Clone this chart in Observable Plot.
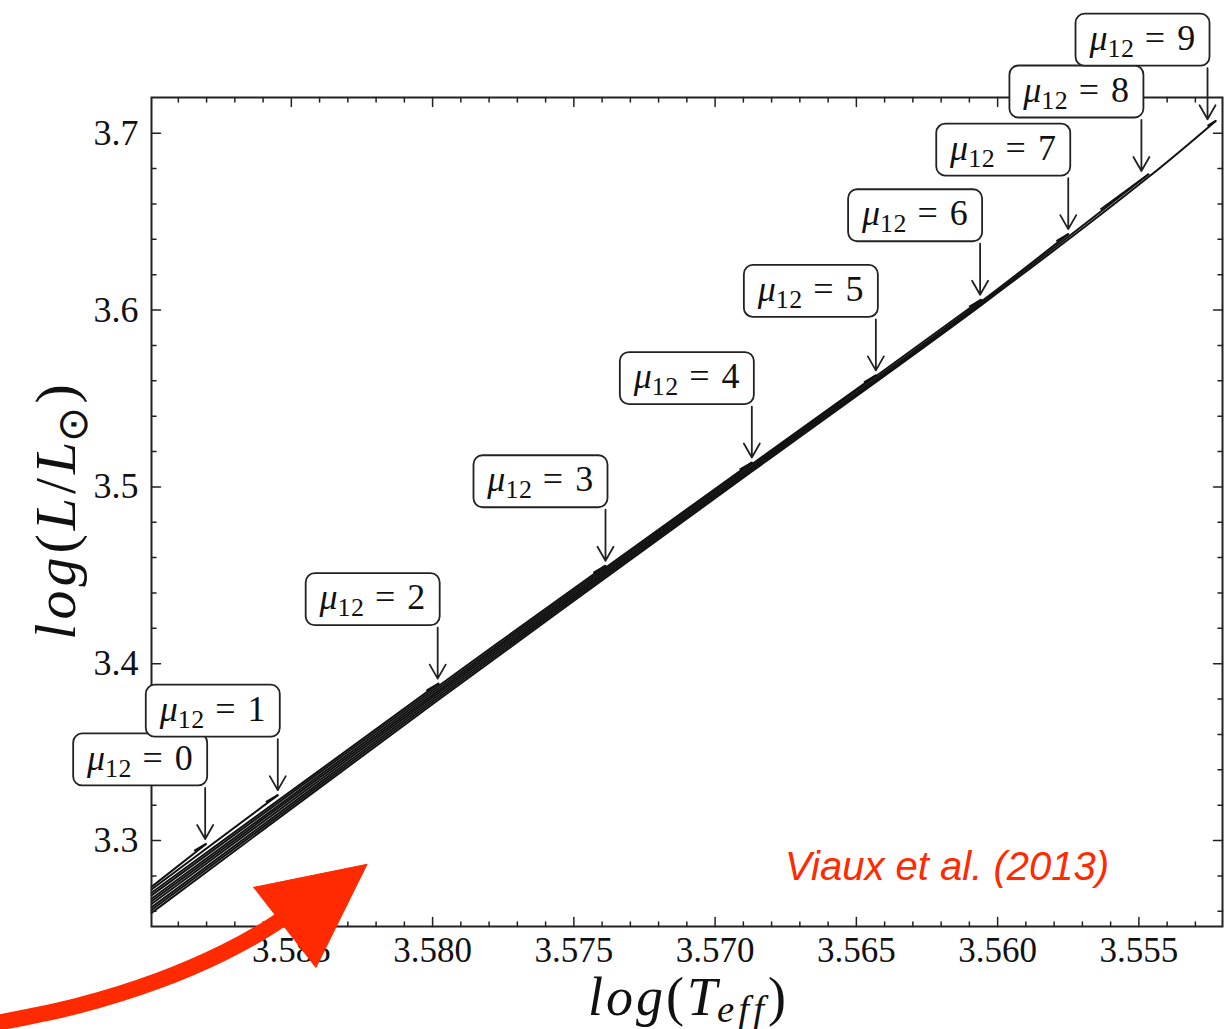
<!DOCTYPE html>
<html><head><meta charset="utf-8">
<script src="https://cdn.jsdelivr.net/npm/d3@7"></script>
<script src="https://cdn.jsdelivr.net/npm/@observablehq/plot@0.6"></script>
<style>html,body{margin:0;padding:0;background:#fff;}</style>
</head><body><div id="chart"></div>
<script>
// ---------- data ----------
const mu = [0, 1, 2, 3, 4, 5, 6, 7, 8, 9];
const xDomain = [3.58995, 3.55204];
const yDomain = [3.2514, 3.7202];
// track start (left edge of frame)
const startX = 3.58995;
const startY = [3.2738, 3.2723, 3.2705, 3.2690, 3.2671, 3.2657, 3.2641, 3.2622, 3.2607, 3.2591];
// intermediate nodes (x of the mu=2,4,6,8 tips)
const nodeX = [3.57979, 3.56870, 3.56058, 3.55466];
const nodeY2 = [null, null, null, 3.3874, 3.3861, 3.3848, 3.3835, 3.3822, 3.3809, 3.3796];
const nodeY4 = [null, null, null, null, null, 3.5128, 3.5117, 3.5107, 3.5097, 3.5087];
const nodeY6 = [null, null, null, null, null, null, null, 3.6048, 3.6038, 3.6028];
const nodeY8 = [null, null, null, null, null, null, null, null, null, 3.6752];
// track tips
const tipX = [3.58802, 3.58548, 3.57979, 3.57388, 3.56870, 3.56431, 3.56058, 3.55750, 3.55466, 3.55228];
const tipY = [3.29807, 3.32567, 3.38873, 3.45541, 3.51377, 3.56306, 3.60584, 3.64295, 3.67677, 3.70697];
// short return hook after each tip
const hookX = [3.58844, 3.58590, 3.58022, 3.57431, 3.56913, 3.56473, 3.56101, 3.55792, 3.55636, 3.55257];
const hookY = [3.29411, 3.32170, 3.38476, 3.45144, 3.50980, 3.55910, 3.60187, 3.63898, 3.65683, 3.70414];
// annotated points
const labelX = [3.58805, 3.58548, 3.57982, 3.57388, 3.56870, 3.56431, 3.56062, 3.55750, 3.55491, 3.55257];
const labelY = [3.29807, 3.32567, 3.38873, 3.45541, 3.51377, 3.56306, 3.60584, 3.64295, 3.67581, 3.70510];
// axes
const xMajor = [3.585, 3.580, 3.575, 3.570, 3.565, 3.560, 3.555];
const xMajorLabels = ["3.585", "3.580", "3.575", "3.570", "3.565", "3.560", "3.555"];
const yMajor = [3.3, 3.4, 3.5, 3.6, 3.7];
const yMajorLabels = ["3.3", "3.4", "3.5", "3.6", "3.7"];
const xMinor = d3.range(3553, 3590).map(v => v / 1000).filter(v => !xMajor.some(m => Math.abs(m - v) < 1e-9));
const yMinor = d3.range(163, 186).map(v => v / 50).filter(v => !yMajor.some(m => Math.abs(m - v) < 1e-9));
// credit
const creditX = [3.56179];
const creditY = [3.28487];
const creditText = ["Viaux et al. (2013)"];
// red highlight arrow
const redShaftX = [3.59537, 3.59253, 3.58970, 3.58739, 3.58562, 3.58491];
const redShaftY = [3.19705, 3.20669, 3.22085, 3.23671, 3.25258, 3.26108];
const redHeadX = [3.58633, 3.58232, 3.58413, 3.58633];
const redHeadY = [3.27354, 3.28657, 3.22822, 3.27354];

// ---------- tables ----------
const trackRows = [];
for (const j of mu) {
  trackRows.push({mu: j, x: startX, y: startY[j]});
  [nodeY2, nodeY4, nodeY6, nodeY8].forEach((arr, k) => {
    if (arr[j] != null) trackRows.push({mu: j, x: nodeX[k], y: arr[j]});
  });
  trackRows.push({mu: j, x: tipX[j], y: tipY[j]});
}
const shaftRows = redShaftX.map((x, i) => ({x, y: redShaftY[i]}));
const headRows = redHeadX.map((x, i) => ({x, y: redHeadY[i]}));

const ink = "#222";
const tickShape = {draw(ctx, l) { ctx.moveTo(0, 0); ctx.lineTo(0, -l); }};
const arrowShape = {draw(ctx, l) {
  ctx.moveTo(0, 0); ctx.lineTo(0, -l);
  ctx.moveTo(-8, -l + 14); ctx.lineTo(0, -l); ctx.lineTo(8, -l + 14);
}};
const serif = "'Liberation Serif', 'Times New Roman', serif";

const tickMarks = (vals, len) => [
  Plot.vector(vals, {x: d => d, frameAnchor: "bottom", length: len, rotate: 0, anchor: "start", shape: tickShape, stroke: ink, strokeWidth: 1.5}),
  Plot.vector(vals, {x: d => d, frameAnchor: "top", length: len, rotate: 180, anchor: "start", shape: tickShape, stroke: ink, strokeWidth: 1.5})
];
const yTickMarks = (vals, len) => [
  Plot.vector(vals, {y: d => d, frameAnchor: "left", length: len, rotate: 90, anchor: "start", shape: tickShape, stroke: ink, strokeWidth: 1.5}),
  Plot.vector(vals, {y: d => d, frameAnchor: "right", length: len, rotate: -90, anchor: "start", shape: tickShape, stroke: ink, strokeWidth: 1.5})
];

const chart = Plot.plot({
  width: 1227,
  height: 1029,
  marginLeft: 151,
  marginRight: 5,
  marginTop: 97,
  marginBottom: 103,
  x: {domain: xDomain, axis: null},
  y: {domain: yDomain, axis: null},
  style: {background: "white"},
  marks: [
    // tracks
    Plot.line(trackRows, {x: "x", y: "y", z: "mu", curve: "catmull-rom", stroke: "#111", strokeWidth: 2}),
    Plot.link(mu, {x1: i => tipX[i], y1: i => tipY[i], x2: i => hookX[i], y2: i => hookY[i], stroke: "#111", strokeWidth: 2}),
    // frame and ticks
    Plot.frame({stroke: ink, strokeWidth: 2}),
    ...tickMarks(xMajor, 9), ...tickMarks(xMinor, 4.5),
    ...yTickMarks(yMajor, 9), ...yTickMarks(yMinor, 4.5),
    // tick labels
    Plot.text(xMajor, {x: d => d, frameAnchor: "bottom", dy: 11, lineAnchor: "top", text: (d, i) => xMajorLabels[i], fontSize: 35, fontFamily: serif, fill: "#111"}),
    Plot.text(yMajor, {y: d => d, frameAnchor: "left", dx: -13, textAnchor: "end", lineAnchor: "middle", text: (d, i) => yMajorLabels[i], fontSize: 36, fontFamily: serif, fill: "#111"}),
    // axis titles
    Plot.text(["x"], {frameAnchor: "bottom", dy: 71, textAnchor: "middle", lineAnchor: "middle", text: () => "log(Teff)", fontSize: 54, fontFamily: serif, fill: "#111"}),
    Plot.text(["y"], {frameAnchor: "left", dx: -95, textAnchor: "middle", lineAnchor: "middle", rotate: -90, text: () => "log(L/L⊙)", fontSize: 58, fontFamily: serif, fill: "#111"}),
    // annotations
    Plot.rect(mu, {x1: i => labelX[i], x2: i => labelX[i], y1: i => labelY[i], y2: i => labelY[i],
      insetLeft: -131.5, insetRight: -2.5, insetTop: -110, insetBottom: 58, rx: 9,
      fill: "white", stroke: ink, strokeWidth: 1.8}),
    Plot.text(mu, {x: i => labelX[i], y: i => labelY[i], dx: -64.5, dy: -86, textAnchor: "middle", lineAnchor: "middle",
      text: i => "μ12 = " + i, fontSize: 36, fontFamily: serif, fill: "#111"}),
    Plot.vector(mu, {x: i => labelX[i], y: i => labelY[i], dy: -5, length: 51, rotate: 180, anchor: "end",
      shape: arrowShape, stroke: ink, strokeWidth: 1.8}),
    // credit
    Plot.text(creditText, {x: (d, i) => creditX[i], y: (d, i) => creditY[i], text: d => d, fill: "#ff2a00",
      fontFamily: "'Liberation Sans', Arial, sans-serif", fontStyle: "italic", fontSize: 40}),
    // red arrow
    Plot.line(shaftRows, {x: "x", y: "y", curve: "catmull-rom", stroke: "#ff2a00", strokeWidth: 16, strokeLinecap: "butt"}),
    Plot.line(headRows, {x: "x", y: "y", fill: "#ff2a00", stroke: "#ff2a00", strokeWidth: 1})
  ]
});
document.getElementById("chart").appendChild(chart);

// ---------- rich text (italics / subscripts) ----------
function rich(textEl, parts, size, subShift) {
  const t = d3.select(textEl);
  t.text(null);
  let shift = 0;
  for (const p of parts) {
    const ts = t.append("tspan").text(p.t);
    ts.attr("font-style", p.italic ? "italic" : "normal");
    const target = p.sub ? size * subShift : 0;
    if (target !== shift) { ts.attr("dy", target - shift); shift = target; }
    if (p.sub) ts.attr("font-size", size * 0.72);
    if (p.ls != null) ts.attr("letter-spacing", p.ls);
  }
}
const allText = d3.select(chart).selectAll("text");
allText.filter(function() { return /^μ12 = /.test(this.textContent); }).each(function() {
  const n = this.textContent.replace(/.*=\s*/, "");
  rich(this, [
    {t: "μ", italic: true},
    {t: "12", sub: true, ls: 0.5},
    {t: " = " + n, ls: 1.5}
  ], 36, 0.2);
});
allText.filter(function() { return this.textContent === "log(Teff)"; }).each(function() {
  rich(this, [
    {t: "log", italic: true, ls: 3},
    {t: "(", ls: 3},
    {t: "T", italic: true},
    {t: "eff", italic: true, sub: true, ls: 4},
    {t: ")"}
  ], 54, 0.13);
});
allText.filter(function() { return this.textContent === "log(L/L⊙)"; }).each(function() {
  rich(this, [
    {t: "log", italic: true, ls: 4},
    {t: "(", ls: 4},
    {t: "L", italic: true, ls: 4},
    {t: "/", ls: 4},
    {t: "L", italic: true},
    {t: "⊙", sub: true, ls: 3},
    {t: ")"}
  ], 58, 0.2);
});
</script>
</body></html>
